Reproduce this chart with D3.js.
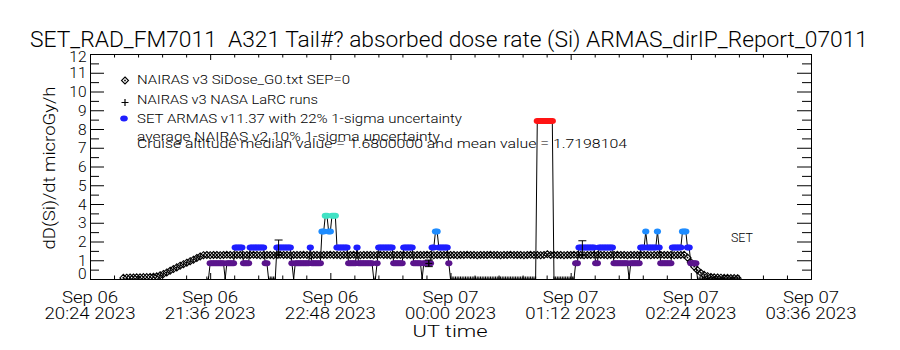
<!DOCTYPE html>
<html>
<head>
<meta charset="utf-8">
<script src="https://cdn.jsdelivr.net/npm/d3@7"></script>
<style>
  body { margin: 0; background: #fff; }
  svg text { font-family: Roboto, "Liberation Sans", Arial, sans-serif; font-weight: 300; fill: #000; white-space: pre; }
</style>
</head>
<body>
<svg></svg>
<script>
let title = "SET_RAD_FM7011  A321 Tail#? absorbed dose rate (Si) ARMAS_dirIP_Report_07011"
let yTitle = "dD(Si)/dt microGy/h"
let xTitle = "UT time"

let xTicks = ["2023-09-06T20:24Z", "2023-09-06T21:36Z", "2023-09-06T22:48Z", "2023-09-07T00:00Z",
              "2023-09-07T01:12Z", "2023-09-07T02:24Z", "2023-09-07T03:36Z"].map(d => new Date(d))
let xTickDay = ["Sep 06", "Sep 06", "Sep 06", "Sep 07", "Sep 07", "Sep 07", "Sep 07"]
let xTickTime = ["20:24 2023", "21:36 2023", "22:48 2023", "00:00 2023", "01:12 2023", "02:24 2023", "03:36 2023"]
let yTicks = [0, 1, 2, 3, 4, 5, 6, 7, 8, 9, 10, 11, 12]

let legendLabels = ["NAIRAS v3 SiDose_G0.txt SEP=0", "NAIRAS v3 NASA LaRC runs",
                    "SET ARMAS v11.37 with 22% 1-sigma uncertainty", "average NAIRAS v2 10% 1-sigma uncertainty"]
let statsLabel = "Cruise altitude median value = 1.6800000 and mean value = 1.7198104"

// NAIRAS v3 SiDose_G0, one value every 2 minutes starting 20:44 UT
let nairasStart = new Date("2023-09-06T20:44Z")
let nairasStepMin = 2
let nairasDose = [
  0.06, 0.07, 0.08, 0.08, 0.09, 0.09, 0.10, 0.10, 0.11, 0.12, 0.14,
  0.20, 0.27, 0.35, 0.44, 0.53, 0.62, 0.71, 0.79, 0.87, 0.95, 1.03, 1.12, 1.20, 1.27,
  1.28, 1.27, 1.28, 1.28, 1.27, 1.28, 1.29, 1.28, 1.27, 1.28, 1.28, 1.27,
  1.28, 1.28, 1.29, 1.28, 1.27, 1.28, 1.28, 1.28, 1.27, 1.28, 1.29, 1.28,
  1.28, 1.27, 1.28, 1.28, 1.28, 1.29, 1.28, 1.27, 1.28, 1.28, 1.27, 1.28,
  1.28, 1.29, 1.28, 1.28, 1.27, 1.28, 1.28, 1.28, 1.29, 1.28, 1.27, 1.28,
  1.28, 1.28, 1.27, 1.28, 1.29, 1.28, 1.28, 1.27, 1.28, 1.28, 1.28, 1.29,
  1.28, 1.28, 1.27, 1.28, 1.28, 1.28, 1.29, 1.28, 1.27, 1.28, 1.28, 1.28,
  1.29, 1.28, 1.28, 1.27, 1.28, 1.28, 1.29, 1.28, 1.28, 1.27, 1.28, 1.28,
  1.28, 1.29, 1.28, 1.28, 1.27, 1.28, 1.28, 1.29, 1.28, 1.28, 1.28, 1.27,
  1.28, 1.29, 1.28, 1.28, 1.27, 1.28, 1.32, 1.28, 1.29, 1.28, 1.28, 1.27,
  1.28, 1.28, 1.29, 1.28, 1.28, 1.27, 1.28, 1.28, 1.29, 1.28, 1.28, 1.28,
  1.27, 1.28, 1.28, 1.29, 1.28, 1.28, 1.27, 1.28, 1.28, 1.28, 1.29, 1.28,
  1.28, 1.27, 1.28, 1.28, 1.29, 1.28, 1.28, 1.28, 1.27, 1.28, 1.28, 1.29,
  1.14, 0.90, 0.66, 0.47, 0.33, 0.22, 0.15, 0.11, 0.09, 0.08, 0.07, 0.06, 0.06, 0.05, 0.05, 0.04
]

// ARMAS, one sample per minute starting 21:34 UT, as index into armasDoseLevels
let armasStart = new Date("2023-09-06T21:34Z")
let armasDoseLevels = [0, 0.843, 1.686, 2.529, 3.372, 8.43]
let armasLevel = [
  0,0,1,1,1,1,1,1,1,1,  1,0,1,1,1,1,1,2,2,2,  2,2,1,1,1,1,2,2,2,2,  2,2,2,2,2,1,1,0,0,0,
  0,0,2,2,2,2,2,2,2,2,  2,1,0,1,1,1,1,1,1,1,  1,1,2,1,1,1,1,1,1,3,  3,4,4,3,3,4,4,4,2,2,
  2,2,2,2,2,1,1,1,1,1,  2,1,1,1,1,1,1,1,1,1,  0,0,1,2,2,2,2,2,2,2,  2,2,1,1,1,1,1,1,2,2,
  2,2,2,2,1,1,1,1,1,0,  1,1,1,1,1,2,2,3,3,2,  2,2,2,2,2,1,0,0,0,0,  0,0,0,0,0,0,0,0,0,0,
  0,0,0,0,0,0,0,0,0,0,  0,0,0,0,0,0,0,0,0,0,  0,0,0,0,0,0,0,0,0,0,  0,0,0,0,0,0,0,0,5,5,
  5,5,5,5,5,5,5,5,0,0,  0,0,0,0,0,0,0,0,0,0,  0,1,1,2,2,2,2,2,2,2,  2,2,2,1,1,2,2,2,2,2,
  2,2,2,2,1,1,1,1,1,1,  1,1,1,0,1,1,1,1,1,1,  2,2,2,3,2,2,2,2,2,2,  3,2,1,1,1,1,1,1,1,2,
  2,2,2,2,2,3,3,3,2,2,  1,1,1,1,0,0,0,0,0,0,  0,0,0,0,0,0,0,0,0,0,  0,0,0,0,0,0,0,0,0,0
]

// NAIRAS v3 NASA LaRC runs with error bars
let larcTime = ["2023-09-06T22:17Z", "2023-09-06T23:47Z", "2023-09-07T01:19Z"].map(d => new Date(d))
let larcDose = [1.28, 0.83, 1.28]
let larcHi = [2.08, 1.01, 2.04]
let larcLo = [1.28, 0.66, 1.28]

let levelColors = ["#000000", "#5a148c", "#1e1eff", "#1e8cff", "#40e2c4", "#ff1414"]

let margin = { top: 54, right: 89, bottom: 71, left: 90 }
let width = 900 - margin.left - margin.right
let height = 350 - margin.top - margin.bottom

let svg = d3.select('svg').attr('width', 900).attr('height', 350)
let chart = svg.append('g').attr('transform', 'translate(' + margin.left + ',' + margin.top + ')')

let x = d3.scaleUtc().domain([xTicks[0], xTicks[xTicks.length - 1]]).range([0, width])
let y = d3.scaleLinear().domain([0, 12]).range([height, 0])
let color = d3.scaleOrdinal().domain(d3.range(levelColors.length)).range(levelColors)

// minor ticks: 5 intervals per major time step, halves on y
let xMinor = []
for (let i = 0; i < xTicks.length - 1; i++) {
  for (let k = 1; k < 5; k++) xMinor.push(new Date(+xTicks[i] + k * (xTicks[i + 1] - xTicks[i]) / 5))
}
let yMinor = yTicks.slice(0, -1).map(d => d + 0.5)

function axis(g, a) { g.call(a); g.selectAll('text').remove() }

chart.append('g').attr('transform', 'translate(0,' + height + ')')
    .call(axis, d3.axisBottom(x).tickValues(xTicks).tickSizeInner(-6).tickSizeOuter(0))
chart.append('g').call(axis, d3.axisTop(x).tickValues(xTicks).tickSizeInner(-6).tickSizeOuter(0))
chart.append('g').attr('transform', 'translate(0,' + height + ')')
    .call(axis, d3.axisBottom(x).tickValues(xMinor).tickSizeInner(-3.5).tickSizeOuter(0))
chart.append('g').call(axis, d3.axisTop(x).tickValues(xMinor).tickSizeInner(-3.5).tickSizeOuter(0))

chart.append('g').call(axis, d3.axisLeft(y).tickValues(yTicks).tickSizeInner(-14).tickSizeOuter(0))
chart.append('g').attr('transform', 'translate(' + width + ',0)')
    .call(axis, d3.axisRight(y).tickValues(yTicks).tickSizeInner(-14).tickSizeOuter(0))
chart.append('g').call(axis, d3.axisLeft(y).tickValues(yMinor).tickSizeInner(-9).tickSizeOuter(0))
chart.append('g').attr('transform', 'translate(' + width + ',0)')
    .call(axis, d3.axisRight(y).tickValues(yMinor).tickSizeInner(-9).tickSizeOuter(0))
chart.selectAll('.domain, .tick line').attr('stroke', '#000').attr('stroke-width', 1)

// y tick labels
chart.selectAll('.ylab').data(yTicks).enter().append('text')
    .attr('class', 'ylab')
    .attr('x', -3.5)
    .attr('y', d => y(d) + (d === 0 ? -6 : d === 12 ? 2.5 : 0))
    .attr('dy', '0.36em')
    .attr('text-anchor', 'end')
    .style('font-size', '15.5px')
    .text(d => d)

// x tick labels, two lines each
let xl = chart.selectAll('.xlab').data(xTicks).enter().append('text')
    .attr('class', 'xlab').attr('text-anchor', 'middle').style('font-size', '16px')
xl.append('tspan').attr('x', d => x(d)).attr('y', height + 24)
    .attr('textLength', 56).attr('lengthAdjust', 'spacingAndGlyphs')
    .text((d, i) => xTickDay[i])
xl.append('tspan').attr('x', d => x(d)).attr('y', height + 40)
    .attr('textLength', 91).attr('lengthAdjust', 'spacingAndGlyphs')
    .text((d, i) => xTickTime[i])

svg.append('text').attr('x', 450).attr('y', 337).attr('text-anchor', 'middle')
    .style('font-size', '16px').attr('textLength', 75).attr('lengthAdjust', 'spacingAndGlyphs')
    .text(xTitle)

svg.append('text').attr('transform', 'translate(55,168) rotate(-90)').attr('text-anchor', 'middle')
    .style('font-size', '16.5px').attr('textLength', 163).attr('lengthAdjust', 'spacingAndGlyphs')
    .text(yTitle)

svg.append('text').attr('x', 449).attr('y', 47).attr('text-anchor', 'middle')
    .style('font-size', '22px').attr('textLength', 838).attr('lengthAdjust', 'spacingAndGlyphs')
    .text(title)

// data area
svg.append('defs').append('clipPath').attr('id', 'plotclip')
    .append('rect').attr('width', width + 1).attr('height', height + 1)
let plot = chart.append('g').attr('clip-path', 'url(#plotclip)')

let diamond = 'M0,-3.5L3.5,0L0,3.5L-3.5,0Z'

let nairas = nairasDose.map((v, i) => ({ t: new Date(+nairasStart + i * nairasStepMin * 60000), v: v }))
let armas = armasLevel.map((c, i) => ({ t: new Date(+armasStart + i * 60000), c: c, v: armasDoseLevels[c] }))
let larc = larcTime.map((t, i) => ({ t: t, v: larcDose[i], hi: larcHi[i], lo: larcLo[i] }))

// NAIRAS SiDose diamonds
let nd = plot.selectAll('.nairas').data(nairas).enter().append('g')
    .attr('class', 'nairas')
    .attr('transform', d => 'translate(' + x(d.t) + ',' + y(d.v) + ')')
nd.append('path').attr('d', diamond).attr('fill', 'none').attr('stroke', '#000').attr('stroke-width', 1.1)
nd.append('rect').attr('x', -0.8).attr('y', -0.8).attr('width', 1.6).attr('height', 1.6).attr('fill', '#000')

// ARMAS connecting line
plot.append('path').datum(armas)
    .attr('fill', 'none').attr('stroke', '#000').attr('stroke-width', 1)
    .attr('d', d3.line().x(d => x(d.t)).y(d => y(d.v)))

// ARMAS zero samples sit on the axis
plot.selectAll('.armas0').data(armas.filter(d => d.c === 0)).enter().append('rect')
    .attr('class', 'armas0')
    .attr('x', d => x(d.t) - 0.5).attr('y', height - 2.5)
    .attr('width', 1).attr('height', 3).attr('fill', '#000')

plot.selectAll('.armas').data(armas.filter(d => d.c > 0)).enter().append('ellipse')
    .attr('class', 'armas')
    .attr('cx', d => x(d.t)).attr('cy', d => y(d.v))
    .attr('rx', 3.6).attr('ry', 3)
    .attr('fill', d => color(d.c))

// LaRC runs with error bars
let lg = plot.selectAll('.larc').data(larc).enter().append('g').attr('class', 'larc')
    .attr('stroke', '#000').attr('stroke-width', 1)
lg.append('line').attr('x1', d => x(d.t)).attr('x2', d => x(d.t)).attr('y1', d => y(d.lo)).attr('y2', d => y(d.hi))
lg.append('line').attr('x1', d => x(d.t) - 4).attr('x2', d => x(d.t) + 4).attr('y1', d => y(d.hi)).attr('y2', d => y(d.hi))
lg.append('line').attr('x1', d => x(d.t) - 4).attr('x2', d => x(d.t) + 4).attr('y1', d => y(d.lo)).attr('y2', d => y(d.lo))
lg.append('path').attr('d', d => 'M' + (x(d.t) - 3.5) + ',' + y(d.v) + 'h7M' + x(d.t) + ',' + (y(d.v) - 3.5) + 'v7')

// legend
let legendY = [84, 103.5, 123.3, 140.5]
let legendLen = [213, 181, 325, 303]
svg.selectAll('.legtext').data(legendLabels).enter().append('text')
    .attr('class', 'legtext')
    .attr('x', 137).attr('y', (d, i) => legendY[i])
    .attr('textLength', (d, i) => legendLen[i]).attr('lengthAdjust', 'spacingAndGlyphs')
    .style('font-size', '12.5px')
    .text(d => d)
svg.append('text').attr('x', 137).attr('y', 147.5)
    .attr('textLength', 490).attr('lengthAdjust', 'spacingAndGlyphs')
    .style('font-size', '12.5px').text(statsLabel)

let ls = svg.append('g')
ls.append('path').attr('transform', 'translate(125,80.5)').attr('d', diamond)
    .attr('fill', 'none').attr('stroke', '#000').attr('stroke-width', 1.1)
ls.append('rect').attr('x', 124.2).attr('y', 79.7).attr('width', 1.6).attr('height', 1.6)
ls.append('path').attr('d', 'M121.5,102.5h7M125,99v7').attr('stroke', '#000').attr('stroke-width', 1.2)
ls.append('ellipse').attr('cx', 124).attr('cy', 118.5).attr('rx', 3.8).attr('ry', 3).attr('fill', color(2))

svg.append('text').attr('x', 731).attr('y', 242.3)
    .attr('textLength', 22).attr('lengthAdjust', 'spacingAndGlyphs')
    .style('font-size', '13.5px').text('SET')
</script>
</body>
</html>
